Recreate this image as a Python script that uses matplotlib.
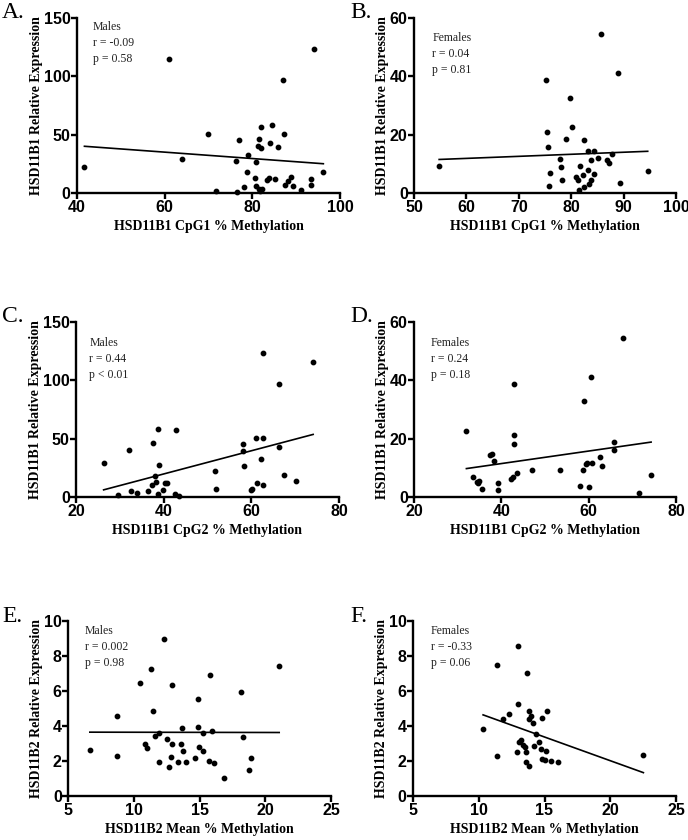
import numpy as np
import matplotlib
matplotlib.use('Agg')
import matplotlib.pyplot as plt

# A. males, HSD11B1 CpG1
a_x = [41.7, 60.9, 63.9, 94.0, 87.1, 69.8, 82.0, 84.4, 87.2, 76.9, 81.5, 81.3, 82.0, 84.1, 85.8, 79.0, 76.2, 80.9, 96.2,
       78.7, 80.5, 83.3, 83.8, 85.2, 88.8, 88.2, 87.4, 89.3, 93.4, 93.4, 78.2, 80.9, 81.5, 82.3, 81.7, 91.1, 71.7, 76.6]
a_y = [22.6, 114.9, 28.9, 123.2, 96.9, 50.8, 56.8, 58.3, 50.6, 45.1, 46.6, 40.6, 38.9, 42.6, 39.2, 32.3, 27.4, 26.6, 18.3,
       18.0, 12.6, 10.9, 12.6, 12.3, 14.0, 10.3, 7.1, 6.0, 11.7, 6.6, 5.4, 6.0, 3.7, 3.7, 2.0, 2.3, 1.4, 1.1]

# B. females, HSD11B1 CpG1
b_x = [54.8, 85.6, 89.0, 75.2, 79.7, 75.3, 80.2, 75.6, 79.1, 82.5, 83.3, 84.4, 87.8, 85.1, 86.8, 87.3, 83.7,
       77.8, 78.1, 81.7, 83.2, 84.3, 82.2, 81.0, 81.3, 83.7, 83.4, 82.5, 81.4, 75.9, 75.7, 78.3, 89.4, 94.6]
b_y = [9.2, 54.5, 41.2, 38.7, 32.7, 20.9, 22.6, 15.8, 18.6, 18.0, 14.3, 14.3, 13.4, 12.0, 11.2, 10.3, 11.2,
       11.6, 9.0, 9.2, 8.0, 6.5, 6.1, 5.5, 4.4, 4.6, 3.2, 2.0, 1.1, 6.7, 2.4, 4.5, 3.6, 7.5]

# C. males, HSD11B1 CpG2
c_x = [26.3, 32.0, 29.6, 32.5, 33.9, 36.5, 37.5, 38.7, 38.9, 38.0, 37.4, 38.3, 38.8, 39.9, 40.2, 40.7, 42.8, 42.5, 43.5,
       51.8, 51.9, 58.0, 58.0, 58.3, 61.1, 62.7, 61.3, 62.1, 62.6, 59.9, 60.2, 62.7, 66.4, 66.2, 67.4, 70.3, 74.1]
c_y = [28.9, 40.6, 1.5, 5.1, 3.4, 4.9, 46.6, 58.3, 27.4, 18.0, 10.3, 13.1, 2.3, 5.7, 12.3, 12.3, 57.1, 2.3, 1.1,
       22.6, 6.6, 45.1, 39.1, 26.8, 50.8, 50.8, 11.7, 32.3, 10.3, 5.7, 6.9, 123.7, 97.1, 43.1, 18.6, 13.7, 115.4]

# D. females, HSD11B1 CpG2
d_x = [32.0, 33.5, 34.4, 34.7, 34.9, 35.5, 37.4, 37.8, 38.3, 39.3, 39.2, 42.9, 42.9, 43.0, 42.1, 42.6, 43.5,
       47.0, 53.4, 58.1, 60.0, 59.0, 60.6, 58.7, 59.3, 59.7, 60.7, 62.5, 63.1, 65.7, 65.7, 67.8, 71.5, 74.3]
d_y = [22.7, 6.9, 5.3, 4.8, 5.5, 2.7, 14.5, 14.7, 12.2, 4.9, 2.4, 38.6, 21.2, 18.2, 6.3, 6.7, 8.4,
       9.3, 9.3, 3.9, 3.6, 32.8, 41.2, 9.4, 11.4, 11.5, 11.7, 13.7, 10.7, 18.8, 16.1, 54.4, 1.4, 7.7]

# E. males, HSD11B2 mean
e_x = [6.66, 8.74, 8.69, 10.47, 11.34, 12.31, 11.47, 12.9, 10.83, 11.0, 11.62, 11.92, 11.95, 12.56, 12.94, 12.86,
       12.69, 13.63, 13.66, 13.78, 13.4, 13.96, 14.62, 14.88, 14.98, 14.85, 15.28, 15.3, 15.69, 15.82, 15.95, 16.1,
       16.86, 18.16, 18.31, 18.74, 18.92, 21.06]
e_y = [2.62, 4.59, 2.29, 6.43, 7.25, 8.99, 4.87, 6.33, 2.99, 2.73, 3.45, 3.59, 1.97, 3.25, 2.99, 2.25,
       1.67, 2.98, 3.89, 2.60, 1.93, 1.97, 2.16, 3.96, 2.79, 5.54, 2.56, 3.62, 2.01, 6.90, 3.72, 1.91,
       1.02, 5.95, 3.39, 1.50, 2.16, 7.43]

# F. females, HSD11B2 mean
f_x = [10.33, 11.35, 11.35, 11.85, 12.29, 13.02, 13.02, 13.66, 13.04, 13.21, 13.37, 12.92, 13.53, 13.63, 13.58, 13.84,
       13.84, 13.97, 13.84, 14.14, 14.33, 14.57, 14.22, 14.77, 14.83, 15.0, 15.13, 14.80, 15.16, 15.51, 16.0, 22.52]
f_y = [3.85, 7.46, 2.28, 4.40, 4.67, 8.57, 5.25, 7.02, 3.11, 3.20, 2.94, 2.54, 2.82, 2.54, 1.93, 1.74,
       4.87, 4.59, 4.38, 4.15, 3.53, 3.07, 2.88, 2.71, 2.11, 2.07, 2.60, 4.46, 4.86, 1.99, 1.97, 2.37]

letters = ['A.', 'B.', 'C.', 'D.', 'E.', 'F.']
notes = ['Males\nr = -0.09\np = 0.58', 'Females\nr = 0.04\np = 0.81',
         'Males\nr = 0.44\np < 0.01', 'Females\nr = 0.24\np = 0.18',
         'Males\nr = 0.002\np = 0.98', 'Females\nr = -0.33\np = 0.06']
xlabels = ['HSD11B1 CpG1 % Methylation'] * 2 + ['HSD11B1 CpG2 % Methylation'] * 2 + ['HSD11B2 Mean % Methylation'] * 2
ylabels = ['HSD11B1 Relative Expression'] * 4 + ['HSD11B2 Relative Expression'] * 2
xticks = [[40, 60, 80, 100], [50, 60, 70, 80, 90, 100], [20, 40, 60, 80], [20, 40, 60, 80],
          [5, 10, 15, 20, 25], [5, 10, 15, 20, 25]]
yticks = [[0, 50, 100, 150], [0, 20, 40, 60], [0, 50, 100, 150], [0, 20, 40, 60],
          [0, 2, 4, 6, 8, 10], [0, 2, 4, 6, 8, 10]]

W, H = 688, 840
# axes boxes in pixels: left, right, top, bottom
boxes = [(77, 340, 18, 193), (414, 676, 18, 193),
         (76, 339, 322, 497), (414, 676, 322, 497),
         (68, 331, 621, 796), (413, 676, 621, 796)]
note_pos = [(0.06, 0.985), (0.07, 0.92), (0.05, 0.915), (0.065, 0.915), (0.065, 0.975), (0.068, 0.975)]
letter_pos = [(2, 2), (350, 2), (2, 306), (350, 306), (2, 606), (350, 606)]

data = [(a_x, a_y), (b_x, b_y), (c_x, c_y), (d_x, d_y), (e_x, e_y), (f_x, f_y)]

fig = plt.figure(figsize=(W / 100, H / 100), dpi=100)

for i, (x, y) in enumerate(data):
    l, r, t, b = boxes[i]
    ax = fig.add_axes([l / W, 1 - b / H, (r - l) / W, (b - t) / H])
    x = np.array(x)
    y = np.array(y)
    ax.scatter(x, y, s=10, color='black', zorder=3, clip_on=False)
    slope, icpt = np.polyfit(x, y, 1)
    xs = np.array([x.min(), x.max()])
    ax.plot(xs, slope * xs + icpt, color='black', lw=1.2)

    ax.set_xlim(xticks[i][0], xticks[i][-1])
    ax.set_ylim(yticks[i][0], yticks[i][-1])
    ax.set_xticks(xticks[i])
    ax.set_yticks(yticks[i])
    for s in ['top', 'right']:
        ax.spines[s].set_visible(False)
    for s in ['left', 'bottom']:
        ax.spines[s].set_linewidth(1.7)
    ax.tick_params(direction='out', length=4, width=1.7, pad=1)
    ax.tick_params(axis='y', pad=0.5)
    for lab in ax.get_xticklabels() + ax.get_yticklabels():
        lab.set_fontfamily('Liberation Sans')
        lab.set_fontweight('bold')
        lab.set_fontsize(11.5)
    ax.set_xlabel(xlabels[i], family='Liberation Serif', weight='bold', fontsize=10, labelpad=3.5)
    ax.set_ylabel(ylabels[i], family='Liberation Serif', weight='bold', fontsize=10, labelpad=0.5)
    ax.text(note_pos[i][0], note_pos[i][1], notes[i], transform=ax.transAxes, va='top', ha='left',
            family='Liberation Serif', fontsize=8.5, color='#222222', linespacing=1.45)

    fig.text(letter_pos[i][0] / W, 1 - letter_pos[i][1] / H, letters[i], va='top', ha='left',
             family='Liberation Serif', fontsize=17)

fig.savefig('out.png', dpi=100)
